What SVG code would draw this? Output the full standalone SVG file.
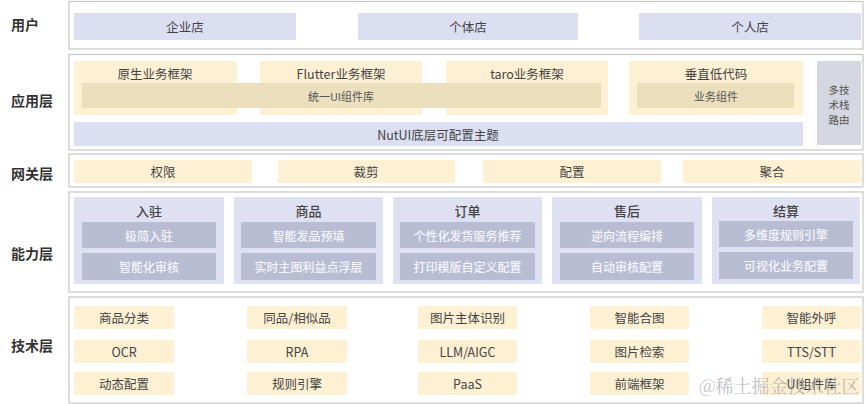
<svg xmlns="http://www.w3.org/2000/svg" width="865" height="404" viewBox="0 0 865 404">
<style>
text{font-family:"Noto Sans CJK SC","Noto Sans",sans-serif;text-anchor:middle;dominant-baseline:central}
.layer{fill:#fff;stroke:#c6c6c6;stroke-width:1.2}
.lbl{font-size:14px;font-weight:bold;fill:#333}
.lav{fill:#dcdff2}
.yel{fill:#fdf0d3}
.tan{fill:#ebdfbe}
.gray{fill:#d4d7e0}
.grp{fill:#dfe1f3}
.sub{fill:#b9bdd4}
.t13{font-size:12.5px;fill:#444}
.t11{font-size:11px;fill:#555}
.tr{font-size:10.5px;fill:#555}
.ts{font-size:12px;fill:#f4f5fa;font-weight:500}
.tg{font-size:13px;fill:#444;font-weight:500}
.wm{font-family:"Noto Serif CJK SC","Noto Sans CJK SC",serif;font-size:18px;fill:#9a9a9a;fill-opacity:0.65;text-anchor:start}
</style>

<g id="layer-user">
<rect class="layer" x="69" y="1.5" width="794" height="47.5"/>
<text class="lbl" x="25" y="24">用户</text>
<g id="n-qiye"><rect class="lav" x="74" y="13" width="222" height="27"/><text class="t13" x="185" y="26.5">企业店</text></g>
<g id="n-geti"><rect class="lav" x="358" y="13" width="220" height="27"/><text class="t13" x="468" y="26.5">个体店</text></g>
<g id="n-geren"><rect class="lav" x="639" y="13" width="222" height="27"/><text class="t13" x="750" y="26.5">个人店</text></g>
</g>

<g id="layer-app">
<rect class="layer" x="69" y="54.5" width="794" height="95.5"/>
<text class="lbl" x="32" y="100">应用层</text>
<g id="n-native"><rect class="yel" x="74" y="61" width="163" height="54"/><text class="t13" x="155" y="73">原生业务框架</text></g>
<g id="n-flutter"><rect class="yel" x="260" y="61" width="162" height="54"/><text class="t13" x="341" y="73">Flutter业务框架</text></g>
<g id="n-taro"><rect class="yel" x="446" y="61" width="162" height="54"/><text class="t13" x="527" y="73">taro业务框架</text></g>
<g id="n-lowcode"><rect class="yel" x="629" y="61" width="174" height="54"/><text class="t13" x="716" y="73">垂直低代码</text></g>
<g id="n-uilib"><rect class="tan" x="82" y="83" width="519" height="25"/><text class="t11" x="341" y="95.5">统一UI组件库</text></g>
<g id="n-bizcomp"><rect class="tan" x="637" y="83" width="157" height="25"/><text class="t11" x="716" y="95.5">业务组件</text></g>
<g id="n-nutui"><rect class="lav" x="74" y="122" width="729" height="24"/><text class="t13" x="438" y="134">NutUI底层可配置主题</text></g>
<g id="n-route"><rect class="gray" x="817" y="61" width="44" height="84"/>
<text class="tr" x="839" y="89"><tspan x="839" y="88.5">多技</tspan><tspan x="839" y="103.5">术栈</tspan><tspan x="839" y="118.5">路由</tspan></text></g>
</g>

<g id="layer-gateway">
<rect class="layer" x="69" y="154" width="794" height="33"/>
<text class="lbl" x="32" y="173">网关层</text>
<g id="n-auth"><rect class="yel" x="74" y="160" width="178" height="23"/><text class="t13" x="163" y="171.5">权限</text></g>
<g id="n-cut"><rect class="yel" x="278" y="160" width="177" height="23"/><text class="t13" x="366" y="171.5">裁剪</text></g>
<g id="n-conf"><rect class="yel" x="483" y="160" width="178" height="23"/><text class="t13" x="572" y="171.5">配置</text></g>
<g id="n-agg"><rect class="yel" x="683" y="160" width="178" height="23"/><text class="t13" x="772" y="171.5">聚合</text></g>
</g>

<g id="layer-ability">
<rect class="layer" x="69" y="192" width="794" height="100"/>
<text class="lbl" x="32" y="253">能力层</text>
<g id="g-ruzhu"><rect class="grp" x="74" y="197" width="150" height="87"/><text class="tg" x="149" y="210">入驻</text>
<rect class="sub" x="82" y="222" width="134" height="26"/><text class="ts" x="149" y="235">极简入驻</text>
<rect class="sub" x="82" y="253" width="134" height="27"/><text class="ts" x="149" y="266.5">智能化审核</text></g>
<g id="g-goods"><rect class="grp" x="234" y="197" width="149" height="87"/><text class="tg" x="308.5" y="210">商品</text>
<rect class="sub" x="241" y="222" width="135" height="26"/><text class="ts" x="308.5" y="235">智能发品预填</text>
<rect class="sub" x="241" y="253" width="135" height="27"/><text class="ts" x="308.5" y="266.5">实时主图利益点浮层</text></g>
<g id="g-order"><rect class="grp" x="393" y="197" width="149" height="87"/><text class="tg" x="467.5" y="210">订单</text>
<rect class="sub" x="400" y="222" width="135" height="26"/><text class="ts" x="467.5" y="235">个性化发货服务推荐</text>
<rect class="sub" x="400" y="253" width="135" height="27"/><text class="ts" x="467.5" y="266.5">打印模版自定义配置</text></g>
<g id="g-after"><rect class="grp" x="552" y="197" width="150" height="87"/><text class="tg" x="627" y="210">售后</text>
<rect class="sub" x="560" y="222" width="134" height="26"/><text class="ts" x="627" y="235">逆向流程编排</text>
<rect class="sub" x="560" y="253" width="134" height="27"/><text class="ts" x="627" y="266.5">自动审核配置</text></g>
<g id="g-settle"><rect class="grp" x="712" y="197" width="148" height="87"/><text class="tg" x="786" y="210">结算</text>
<rect class="sub" x="719" y="221" width="134" height="26"/><text class="ts" x="786" y="234">多维度规则引擎</text>
<rect class="sub" x="719" y="252" width="134" height="27"/><text class="ts" x="786" y="265.5">可视化业务配置</text></g>
</g>

<g id="layer-tech">
<rect class="layer" x="69" y="297" width="794" height="106"/>
<text class="lbl" x="32" y="345">技术层</text>
<g id="n-t1"><rect class="yel" x="74" y="306" width="100" height="23"/><text class="t13" x="124" y="317.5">商品分类</text></g>
<g id="n-t2"><rect class="yel" x="74" y="340" width="100" height="23"/><text class="t13" x="124" y="351.5">OCR</text></g>
<g id="n-t3"><rect class="yel" x="74" y="372" width="100" height="23"/><text class="t13" x="124" y="383.5">动态配置</text></g>
<g id="n-t4"><rect class="yel" x="247" y="306" width="100" height="23"/><text class="t13" x="297" y="317.5">同品/相似品</text></g>
<g id="n-t5"><rect class="yel" x="247" y="340" width="100" height="23"/><text class="t13" x="297" y="351.5">RPA</text></g>
<g id="n-t6"><rect class="yel" x="247" y="372" width="100" height="23"/><text class="t13" x="297" y="383.5">规则引擎</text></g>
<g id="n-t7"><rect class="yel" x="418" y="306" width="99" height="23"/><text class="t13" x="467.5" y="317.5">图片主体识别</text></g>
<g id="n-t8"><rect class="yel" x="418" y="340" width="99" height="23"/><text class="t13" x="467.5" y="351.5">LLM/AIGC</text></g>
<g id="n-t9"><rect class="yel" x="418" y="372" width="99" height="23"/><text class="t13" x="467.5" y="383.5">PaaS</text></g>
<g id="n-t10"><rect class="yel" x="590" y="306" width="99" height="23"/><text class="t13" x="639.5" y="317.5">智能合图</text></g>
<g id="n-t11"><rect class="yel" x="590" y="340" width="99" height="23"/><text class="t13" x="639.5" y="351.5">图片检索</text></g>
<g id="n-t12"><rect class="yel" x="590" y="372" width="99" height="23"/><text class="t13" x="639.5" y="383.5">前端框架</text></g>
<g id="n-t13"><rect class="yel" x="762" y="306" width="99" height="23"/><text class="t13" x="811.5" y="317.5">智能外呼</text></g>
<g id="n-t14"><rect class="yel" x="762" y="340" width="99" height="23"/><text class="t13" x="811.5" y="351.5">TTS/STT</text></g>
<g id="n-t15"><rect class="yel" x="762" y="372" width="99" height="23"/><text class="t13" x="811.5" y="383.5">UI组件库</text></g>
</g>

<g id="connectors"></g>

<text class="wm" x="699" y="385">@稀土掘金技术社区</text>
</svg>
